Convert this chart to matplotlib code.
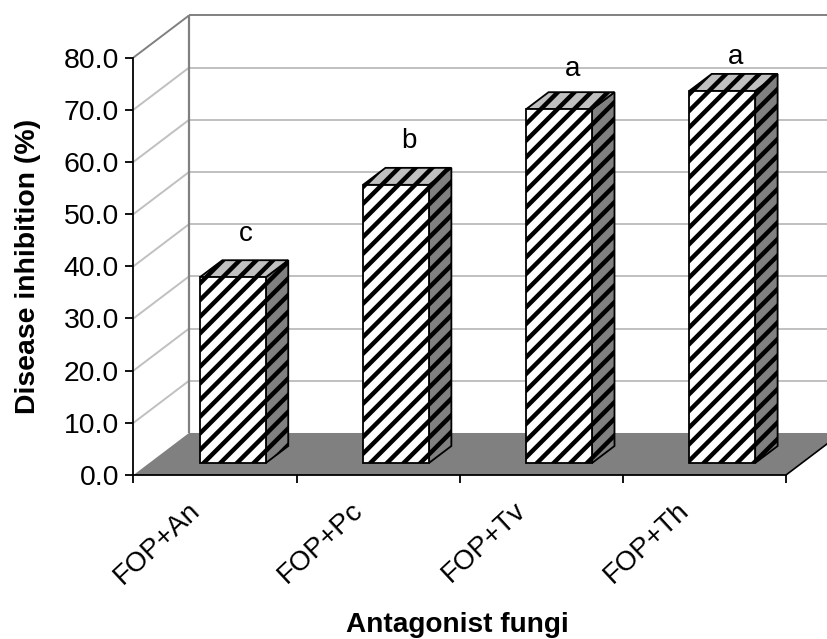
import matplotlib
matplotlib.use("Agg")
import matplotlib.pyplot as plt
from matplotlib.patches import Polygon

categories = ["FOP+An", "FOP+Pc", "FOP+Tv", "FOP+Th"]
values = [35.6, 53.3, 67.8, 71.3]
letters = ["c", "b", "a", "a"]
letter_heights = [46.2, 64.0, 77.8, 80.1]
y_ticks = [0, 10, 20, 30, 40, 50, 60, 70, 80]

plt.rcParams['font.family'] = ['Liberation Sans', 'DejaVu Sans']
plt.rcParams['hatch.linewidth'] = 3.2

W, H = 828, 639
fig = plt.figure(figsize=(W / 100, H / 100), dpi=100)
ax = fig.add_axes([133.5 / W, (H - 475) / H, (786 - 133.5) / W, (475 - 57.5) / H])
ax.set_xlim(0, 4)
ax.set_ylim(0, 80)

DX, DY = 0.34, 8.05        # depth vector of the 3D box in data units
FRONT, BACK = 0.286, 0.69  # bar depth range
BAR_W = 0.404
RIGHT = 4.0


def p(x, y, d=0.0):
    return (x + d * DX, y + d * DY)


def poly(points, **kw):
    kw.setdefault('clip_on', False)
    patch = Polygon(points, closed=True, **kw)
    ax.add_patch(patch)
    return patch


def line(a, b, **kw):
    ax.plot([a[0], b[0]], [a[1], b[1]], clip_on=False, solid_capstyle='butt', **kw)


# floor
poly([p(0, 0), p(RIGHT, 0), p(RIGHT, 0, 1), p(0, 0, 1)], facecolor='#808080', edgecolor='none', zorder=2)
line(p(RIGHT, 0), p(RIGHT, 0, 1), color='black', lw=1.2, zorder=2.1)

# gridlines on side wall and back wall
for v in y_ticks[1:]:
    c = '#808080' if v == 80 else '#c0c0c0'
    line(p(0, v), p(0, v, 1), color=c, lw=1.4, zorder=1)
    line(p(0, v, 1), p(RIGHT, v, 1), color=c, lw=1.4, zorder=1)
line(p(0, 0, 1), p(0, 80, 1), color='#808080', lw=1.6, zorder=1.1)

# bars
for i, (v, lab, lh) in enumerate(zip(values, letters, letter_heights)):
    x0 = i + 0.5 + 0.012 - BAR_W / 2
    x1 = x0 + BAR_W
    kw = dict(edgecolor='black', linewidth=1.3, hatch='//', zorder=3)
    poly([p(x1, 0, FRONT), p(x1, 0, BACK), p(x1, v, BACK), p(x1, v, FRONT)], facecolor='#808080', **kw)
    poly([p(x0, v, FRONT), p(x1, v, FRONT), p(x1, v, BACK), p(x0, v, BACK)], facecolor='#c0c0c0', **kw)
    poly([p(x0, 0, FRONT), p(x1, 0, FRONT), p(x1, v, FRONT), p(x0, v, FRONT)], facecolor='white', **kw)
    ax.text(p(i + 0.5 + 0.012, 0, FRONT)[0] + 0.08, lh, lab, ha='center', va='center',
            fontsize=20, color='black', clip_on=False, zorder=4)

# axes
for s in ('top', 'right'):
    ax.spines[s].set_visible(False)
for s in ('left', 'bottom'):
    ax.spines[s].set_linewidth(1.3)
    ax.spines[s].set_zorder(5)
ax.patch.set_visible(False)

ax.set_yticks(y_ticks)
ax.set_yticklabels([f"{v:.1f}" for v in y_ticks], fontsize=20.4)
ax.tick_params(axis='y', length=5.5, width=1.3, pad=5)
ax.set_xticks(range(5))
ax.set_xticklabels([])
ax.tick_params(axis='x', which='major', length=5.5, width=1.3)
ax.set_xticks([i + 0.33 for i in range(4)], minor=True)
ax.set_xticklabels(categories, minor=True, rotation=43, ha='right', va='top',
                   rotation_mode='anchor', fontsize=20)
ax.tick_params(axis='x', which='minor', length=0, pad=16)

fig.text(457.5 / W, 1 - 632.5 / H, "Antagonist fungi", ha='center', va='baseline',
         fontsize=20.2, fontweight='bold')
fig.text(35 / W, 1 - 266.5 / H, "Disease inhibition (%)", ha='center', va='baseline',
         rotation=90, rotation_mode='anchor', fontsize=20.4, fontweight='bold')

fig.savefig("out.png", dpi=100)
